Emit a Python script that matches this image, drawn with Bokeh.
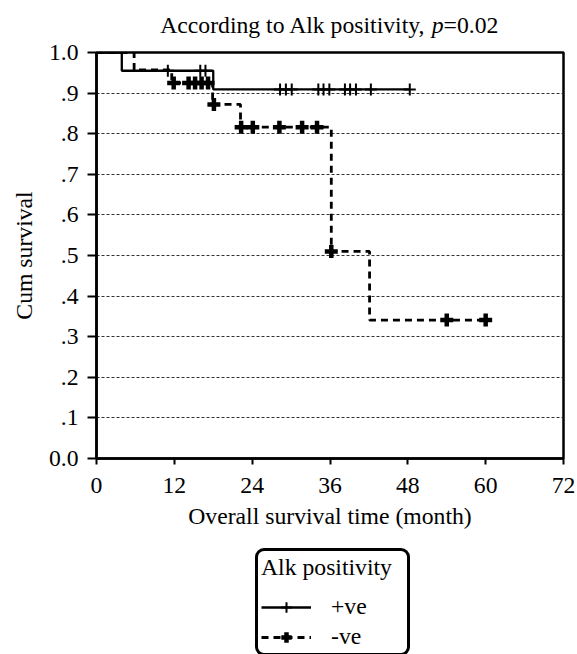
import numpy as np
from bokeh.plotting import figure
from bokeh.layouts import column
from bokeh.models import Range1d, FixedTicker, Legend, LegendItem
from bokeh.core.properties import value
from bokeh.embed import file_html
from bokeh.resources import INLINE

# ---------------- data ----------------
pos_time = [0.0, 3.9, 18.0, 48.3]
pos_surv = [1.0, 0.955, 0.909, 0.909]
pos_cens_time = [11.0, 16.0, 16.8, 28.3, 29.2, 30.1, 34.2, 35.0, 35.9, 38.3, 39.1, 40.0, 42.3, 48.3]
pos_cens_surv = [0.955, 0.955, 0.955, 0.909, 0.909, 0.909, 0.909, 0.909, 0.909, 0.909, 0.909, 0.909, 0.909, 0.909]

neg_time = [0.0, 5.8, 11.6, 17.9, 22.2, 36.2, 42.1, 60.0]
neg_surv = [1.0, 0.957, 0.925, 0.872, 0.816, 0.510, 0.341, 0.341]
neg_cens_time = [11.9, 14.2, 15.2, 16.2, 17.2, 18.1, 22.3, 24.1, 28.2, 31.7, 34.0, 36.2, 54.0, 60.0]
neg_cens_surv = [0.925, 0.925, 0.925, 0.925, 0.925, 0.872, 0.816, 0.816, 0.816, 0.816, 0.816, 0.510, 0.341, 0.341]

series_labels = ["+ve", "-ve"]
x_ticks = [0, 12, 24, 36, 48, 60, 72]
y_ticks = [0.0, 0.1, 0.2, 0.3, 0.4, 0.5, 0.6, 0.7, 0.8, 0.9, 1.0]
y_tick_labels = ["0.0", ".1", ".2", ".3", ".4", ".5", ".6", ".7", ".8", ".9", "1.0"]

title_main = "According to Alk positivity,"
title_p = "p"
title_val = "=0.02"
x_label = "Overall survival time (month)"
y_label = "Cum survival"
legend_title = "Alk positivity"

FONT = "Liberation Serif"
FS = "23.7px"
W = 577
H_TITLE = 38
H_MAIN = 502
H_LEG = 654 - H_TITLE - H_MAIN
BL, BR = 96, 14          # shared left / right borders (frames are aligned in the column)

POS_STYLE = dict(line_color="black", line_width=2.3)
NEG_STYLE = dict(line_color="black", line_width=2.8, line_dash="7 5")
POS_MARK = dict(marker="cross", size=12, line_color="black", line_width=2)
NEG_MARK = dict(marker="cross", size=13, line_color="black", line_width=4.5)


def step_path(t, s):
    t = np.asarray(t, dtype=float)
    s = np.asarray(s, dtype=float)
    return np.repeat(t, 2)[1:], np.repeat(s, 2)[:-1]


def blank_fig(h):
    # frame spans x = BL .. W-BR of the page; data units are page pixels
    f = figure(width=W, height=h, output_backend="svg", toolbar_location=None,
               x_range=Range1d(BL, W - BR), y_range=Range1d(0, h),
               x_axis_location=None, y_axis_location=None,
               min_border_left=BL, min_border_right=BR,
               min_border_top=0, min_border_bottom=0)
    f.grid.visible = False
    f.outline_line_color = None
    f.background_fill_color = "white"
    f.border_fill_color = "white"
    return f


# ---------------- title strip ----------------
ft = blank_fig(H_TITLE)
tkw = dict(text_font=value(FONT), text_font_size=value(FS), text_color="black",
           text_baseline="alphabetic")
TY = 14
ft.text(x=[425.3], y=[TY], text=[title_main], text_align="right", **tkw)
ft.text(x=[431.2], y=[TY], text=[title_p], text_align="left",
        text_font_style="italic", **tkw)
ft.text(x=[443.1], y=[TY], text=[title_val], text_align="left", **tkw)

# ---------------- main plot ----------------
p = figure(width=W, height=H_MAIN, output_backend="svg", toolbar_location=None,
           x_range=Range1d(0, 72), y_range=Range1d(0, 1),
           min_border_left=BL, min_border_right=BR, min_border_top=14, min_border_bottom=82)
p.background_fill_color = "white"
p.border_fill_color = "white"
p.outline_line_color = "black"
p.outline_line_width = 2.5

p.xgrid.visible = False
p.ygrid.ticker = FixedTicker(ticks=y_ticks[1:-1])
p.ygrid.grid_line_color = "#333333"
p.ygrid.grid_line_width = 1.1
p.ygrid.grid_line_dash = "3 2"

for ax in (p.xaxis, p.yaxis):
    ax.axis_line_width = 2.5
    ax.axis_line_color = "black"
    ax.major_tick_line_width = 2
    ax.major_tick_line_color = "black"
    ax.major_tick_in = 0
    ax.minor_tick_line_color = None
    ax.major_label_text_font = FONT
    ax.major_label_text_font_size = FS
    ax.major_label_text_color = "black"
    ax.axis_label_text_font = FONT
    ax.axis_label_text_font_size = FS
    ax.axis_label_text_font_style = "normal"
    ax.axis_label_text_color = "black"

p.xaxis.ticker = FixedTicker(ticks=x_ticks)
p.xaxis.major_tick_out = 6
p.xaxis.major_label_standoff = 13
p.xaxis.axis_label = x_label
p.xaxis.axis_label_standoff = 7

p.yaxis.ticker = FixedTicker(ticks=y_ticks)
p.yaxis.major_label_overrides = {t: l for t, l in zip(y_ticks, y_tick_labels)}
p.yaxis.major_tick_out = 9
p.yaxis.major_label_standoff = 9
p.yaxis.axis_label = y_label
p.yaxis.axis_label_standoff = 9

px, py = step_path(pos_time, pos_surv)
nx, ny = step_path(neg_time, neg_surv)
p.line(px, py, **POS_STYLE)
p.line(nx, ny, **NEG_STYLE)
p.scatter(pos_cens_time, pos_cens_surv, **POS_MARK)
p.scatter(neg_cens_time, neg_cens_surv, **NEG_MARK)

# ---------------- legend strip ----------------
fl = blank_fig(H_LEG)
# stand-in renderers placed outside the visible range, used only for the legend glyphs
off_x, off_y = [-1000.0, -999.0], [-1000.0, -1000.0]
l_pos = fl.line(off_x, off_y, **POS_STYLE)
m_pos = fl.scatter(off_x[:1], off_y[:1], **POS_MARK)
l_neg = fl.line(off_x, off_y, **NEG_STYLE)
m_neg = fl.scatter(off_x[:1], off_y[:1], **NEG_MARK)
legend = Legend(items=[LegendItem(label=series_labels[0], renderers=[l_pos, m_pos]),
                       LegendItem(label=series_labels[1], renderers=[l_neg, m_neg])],
                location=(255 - BL, -2), title=legend_title,
                title_text_font=FONT, title_text_font_size=FS, title_text_font_style="normal",
                title_text_color="black", title_standoff=12,
                label_text_font=FONT, label_text_font_size=FS, label_text_color="black",
                label_height=26, label_width=73, glyph_height=26, glyph_width=50,
                label_standoff=20, spacing=3, padding=3, margin=0,
                border_line_color="black", border_line_width=3, border_line_alpha=1.0,
                background_fill_color="white", background_fill_alpha=1.0)
if "border_radius" in Legend.properties():
    legend.border_radius = 9
fl.add_layout(legend)

layout = column(ft, p, fl, spacing=0)
open("out.html", "w").write(file_html(layout, INLINE))
